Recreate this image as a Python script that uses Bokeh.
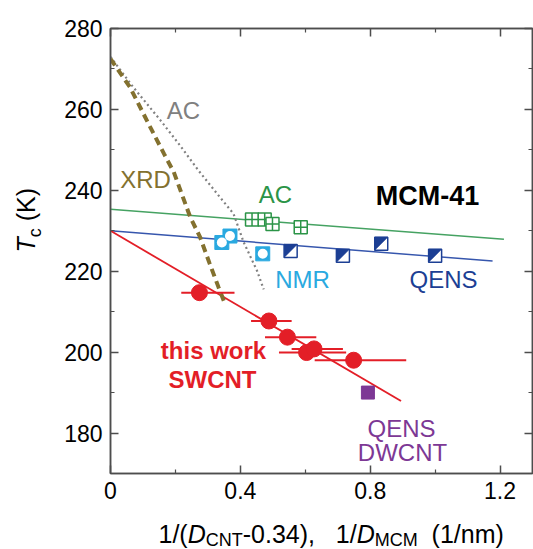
import math
from bokeh.plotting import figure
from bokeh.models import Label, LinearAxis, FixedTicker, Range1d
from bokeh.layouts import row, column
from bokeh.embed import file_html
from bokeh.resources import INLINE

# ---------------- data ----------------
x_ticks = [0, 0.4, 0.8, 1.2]
x_minor = [0.2, 0.6, 1.0]
x_tick_labels = ["0", "0.4", "0.8", "1.2"]
y_ticks = [180, 200, 220, 240, 260, 280]
y_minor = [170, 190, 210, 230, 250, 270]

sw_x = [0.274, 0.488, 0.545, 0.604, 0.627, 0.749]
sw_y = [214.7, 207.7, 203.7, 199.9, 200.8, 198.0]
sw_xlo = [0.218, 0.433, 0.476, 0.519, 0.558, 0.629]
sw_xhi = [0.382, 0.558, 0.634, 0.726, 0.716, 0.911]
sw_fit_x = [0.0, 0.895]
sw_fit_y = [230.0, 187.9]

dw_x = [0.793]
dw_y = [190.0]

qens_x = [0.555, 0.716, 0.834, 1.0]
qens_y = [225.0, 223.8, 226.8, 223.8]
qens_fit_x = [0.0, 1.177]
qens_fit_y = [230.0, 222.5]

nmr_x = [0.343, 0.368, 0.469]
nmr_y = [227.1, 228.7, 224.3]

ac_x = [0.436, 0.475, 0.499, 0.586]
ac_y = [232.8, 232.8, 231.7, 230.9]
ac_fit_x = [0.0, 1.212]
ac_fit_y = [235.3, 227.9]

xrd_x = [0.0, 0.06, 0.12, 0.165, 0.195, 0.245, 0.276, 0.305, 0.333, 0.35]
xrd_y = [272.5, 265.5, 256.0, 249.0, 244.5, 233.5, 228.4, 222.0, 216.0, 212.5]

acc_x = [0.0, 0.07, 0.154, 0.215, 0.270, 0.33, 0.379, 0.41, 0.451, 0.472]
acc_y = [273.0, 265.5, 257.3, 251.0, 245.0, 239.0, 234.2, 227.2, 220.2, 215.5]

# ---------------- styles ----------------
RED = "#e31e27"
PURPLE = "#7d3895"
DBLUE = "#1c3f94"
LBLUE_LINE = "#3656ad"
NMRC = "#2aa9e0"
GREEN = "#2b9447"
GREEN_LINE = "#45a262"
GRAY = "#808080"
OLIVE = "#83712f"
AXC = "#4d4d4d"
FONT = "Liberation Sans"
NB = "\u00a0"

X0, X1 = 0.0, 1.3
Y0, Y1 = 170.0, 280.0

PAGE_W, PAGE_H = 533, 549
YT_W = 48
XT_H = 34
FL, FT, FB, FR = 110, 28, 473, 532

MW = PAGE_W - YT_W
MH = PAGE_H - XT_H
BL = FL - YT_W
BT = FT
BB = MH - FB
BR = PAGE_W - FR
sx = (FR - FL) / (X1 - X0)
sy = (FB - FT) / (Y1 - Y0)

def px2x(px):
    return X0 + (px - FL) / sx

def py2y(py):
    return Y1 - (py - FT) / sy

p = figure(width=MW, height=MH, x_range=(X0, X1), y_range=(Y0, Y1),
           output_backend="svg", toolbar_location=None,
           min_border_left=BL, min_border_right=BR, min_border_top=BT,
           min_border_bottom=BB, x_axis_location=None, y_axis_location=None)
p.xgrid.visible = False
p.ygrid.visible = False
p.outline_line_color = AXC
p.outline_line_width = 1.5

def make_axis(kind, loc):
    ax = LinearAxis()
    if kind == "x":
        ax.ticker = FixedTicker(ticks=x_ticks, minor_ticks=x_minor)
        ax.major_label_overrides = {t: l for t, l in zip(x_ticks, x_tick_labels)}
    else:
        ax.ticker = FixedTicker(ticks=y_ticks, minor_ticks=y_minor)
    ax.axis_line_color = AXC
    ax.axis_line_width = 1.5
    ax.major_tick_line_color = AXC
    ax.minor_tick_line_color = AXC
    ax.major_tick_line_width = 1.5
    ax.minor_tick_line_width = 1.2
    ax.major_tick_in = 8
    ax.major_tick_out = 0
    ax.minor_tick_in = 4
    ax.minor_tick_out = 0
    ax.major_label_text_font = FONT
    ax.major_label_text_font_size = "23px"
    ax.major_label_text_color = "black"
    ax.major_label_standoff = 8
    if loc in ("above", "right"):
        ax.major_label_text_font_size = "0px"
        ax.major_label_standoff = 0
        ax.major_label_text_alpha = 0
    p.add_layout(ax, loc)
    return ax

make_axis("x", "below")
make_axis("y", "left")
make_axis("x", "above")
make_axis("y", "right")

p.line(ac_fit_x, ac_fit_y, line_color=GREEN_LINE, line_width=1.5)
p.line(qens_fit_x, qens_fit_y, line_color=LBLUE_LINE, line_width=1.5)
p.line(sw_fit_x, sw_fit_y, line_color=RED, line_width=1.8)
p.line(acc_x, acc_y, line_color=GRAY, line_width=2.2, line_dash="2 3")
p.line(xrd_x, xrd_y, line_color=OLIVE, line_width=4, line_dash="8 5")

p.scatter(ac_x, ac_y, marker="square_cross", size=13, fill_color="white",
          line_color=GREEN, line_width=1.5)

p.scatter(nmr_x, nmr_y, marker="square", size=14, fill_color=NMRC, line_color=NMRC)
p.scatter(nmr_x, nmr_y, marker="circle", size=10, fill_color="white", line_color=None)

hx = 6.5 / sx
hy = 6.5 / sy
p.scatter(qens_x, qens_y, marker="square", size=13, fill_color="white", line_color=None)
tri_xs = [[x - hx, x + hx, x - hx] for x in qens_x]
tri_ys = [[y + hy, y + hy, y - hy] for y in qens_y]
p.patches(tri_xs, tri_ys, fill_color=DBLUE, line_color=DBLUE, line_width=0.5)
p.scatter(qens_x, qens_y, marker="square", size=13, fill_color=None,
          line_color=DBLUE, line_width=1.5)

p.scatter(dw_x, dw_y, marker="square", size=13, fill_color=PURPLE, line_color=PURPLE)

p.segment(sw_xlo, sw_y, sw_xhi, sw_y, line_color=RED, line_width=2)
p.scatter(sw_x, sw_y, marker="circle", size=16, fill_color=RED, line_color=RED)

def lab(text, px, py, color, size="24px", bold=False, align="center"):
    p.add_layout(Label(x=px2x(px), y=py2y(py), text=text, text_color=color,
                       text_font=FONT, text_font_size=size,
                       text_font_style="bold" if bold else "normal",
                       text_align=align, text_baseline="middle"))

lab("AC", 183, 110, GRAY)
lab("XRD", 145, 179, OLIVE)
lab("AC", 275, 194, GREEN)
lab("MCM-41", 427, 195, "black", size="27px", bold=True)
lab("NMR", 302, 279, NMRC)
lab("QENS", 443, 279, DBLUE)
lab("this work", 213, 350, RED, bold=True)
lab("SWCNT", 212, 379, RED, bold=True)
lab("QENS", 401, 428, PURPLE)
lab("DWCNT", 402, 452, PURPLE)

def strip(w, h, xr, yr):
    f = figure(width=w, height=h, x_range=Range1d(*xr), y_range=Range1d(*yr),
               output_backend="svg", toolbar_location=None,
               min_border=0, min_border_left=0, min_border_right=0,
               min_border_top=0, min_border_bottom=0,
               x_axis_location=None, y_axis_location=None)
    f.xgrid.visible = False
    f.ygrid.visible = False
    f.outline_line_color = None
    return f

# the column lines the strip's frame up with the main frame horizontally
xf = strip(MW, XT_H, (FL, FR), (PAGE_H, MH))
yf = strip(YT_W, PAGE_H, (0, YT_W), (PAGE_H, 0))

AW = {'1': .556, '/': .278, '(': .333, ')': .333, 'D': .722, 'C': .722, 'N': .722,
      'T': .611, 'M': .833, '-': .333, '0': .556, '.': .278, '3': .556, '4': .556,
      ',': .278, ' ': .278, NB: .278, 'n': .556, 'm': .833, 'c': .5, 'K': .667}

def tw(s, size):
    return sum(AW.get(ch, .556) for ch in s) * size

MAIN, SUB = 25, 18
x_title = [("1/(", "normal", MAIN, 0), ("D", "italic", MAIN, 0), ("CNT", "normal", SUB, 6),
           ("-0.34)," + NB * 3 + "1/", "normal", MAIN, 0), ("D", "italic", MAIN, 0),
           ("MCM", "normal", SUB, 6), (NB * 2 + "(1/nm)", "normal", MAIN, 0)]
cx = 158.0
mid = 533.0
for txt, style, size, dy in x_title:
    xf.add_layout(Label(x=cx, y=mid + dy, text=txt, text_font=FONT,
                        text_font_size=f"{size}px", text_font_style=style,
                        text_color="black", text_align="left",
                        text_baseline="middle"))
    cx += tw(txt, size)

y_title = [("T", "italic", MAIN, 0), ("c", "normal", SUB, 9), (NB + "(K)", "normal", MAIN, 0)]
cy = 252.0
bx = 25.0
for txt, style, size, dx in y_title:
    yf.add_layout(Label(x=bx + dx, y=cy, text=txt, text_font=FONT,
                        text_font_size=f"{size}px", text_font_style=style,
                        text_color="black", text_align="left",
                        text_baseline="middle", angle=math.pi / 2))
    cy -= tw(txt, size)

layout = row(yf, column(p, xf))
open("out.html", "w").write(file_html(layout, INLINE))
